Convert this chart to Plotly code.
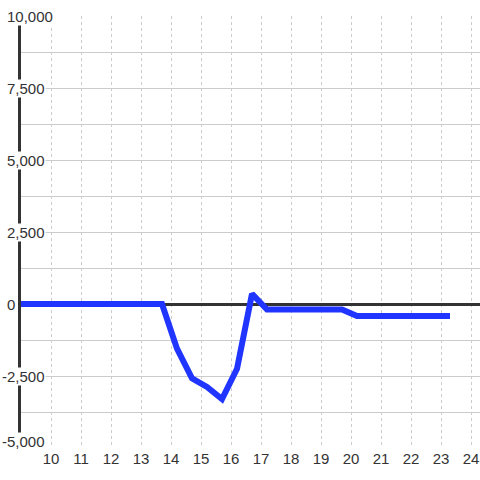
import plotly.graph_objects as go

# data
price = [9.0, 13.7, 14.2, 14.7, 15.2, 15.7, 16.2, 16.7, 17.2, 19.7, 20.2, 23.3]
pnl = [0, 0, -1550, -2580, -2880, -3300, -2250, 350, -190, -190, -420, -420]

y_ticks = [-5000, -2500, 0, 2500, 5000, 7500, 10000]
y_tick_labels = ["-5,000", "-2,500", "0", "2,500", "5,000", "7,500", "10,000"]
x_ticks = list(range(10, 25))

W, H = 480, 480
ML, MR, MT, MB = 21, 0, 16, 32
plot_w = W - ML - MR
FONT = "Liberation Sans, Arial, sans-serif"

fig = go.Figure()

fig.add_trace(go.Scatter(
    x=price,
    y=pnl,
    mode="lines",
    line=dict(color="#2035ff", width=6),
    hoverinfo="skip",
))

# y tick labels sit over the axis line with a white backing
for val, lab in zip(y_ticks, y_tick_labels):
    left_px = 1 if lab.startswith("-") else 6
    bottom = val == min(y_ticks)
    fig.add_annotation(
        x=(left_px - ML) / plot_w, xref="paper", xanchor="left",
        y=val, yref="y",
        yanchor="bottom" if bottom else "middle",
        yshift=-3 if bottom else 0,
        text=lab, showarrow=False,
        font=dict(family=FONT, size=15, color="#333"),
        bgcolor="white", borderpad=0,
    )

fig.update_xaxes(
    range=[9.0, 9.0 + plot_w / 30],
    tickvals=x_ticks,
    showgrid=True, gridcolor="#cccccc", griddash="dot", gridwidth=1,
    zeroline=False, showline=False, ticks="",
    tickfont=dict(family=FONT, size=15, color="#333"),
)
fig.update_yaxes(
    range=[-5000, 10000],
    dtick=1250,
    showticklabels=False,
    showgrid=True, gridcolor="#cccccc", gridwidth=1,
    zeroline=True, zerolinecolor="#333", zerolinewidth=3,
    showline=True, linecolor="#333", linewidth=3,
)

fig.update_layout(
    width=W, height=H,
    margin=dict(l=ML, r=MR, t=MT, b=MB),
    plot_bgcolor="white",
    paper_bgcolor="white",
    showlegend=False,
)

fig.write_html("out.html", config={"displayModeBar": False},
               post_script="document.body.style.margin='0';")
